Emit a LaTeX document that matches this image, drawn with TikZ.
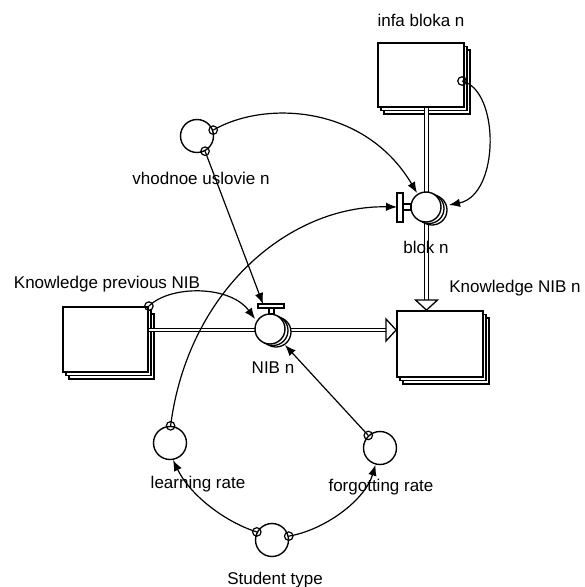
\documentclass[tikz,border=0pt]{standalone}
\usepackage{fontspec}
\setmainfont{Liberation Sans}
\usetikzlibrary{arrows.meta,shadows}
\begin{document}
\begin{tikzpicture}[x=1pt,y=-1pt,
  line width=1.4pt,
  lbl/.style={font=\fontsize{17}{20}\selectfont, inner sep=0pt},
  aux/.style={circle, draw, fill=white, minimum size=33pt, inner sep=0pt},
  port/.style={circle, draw, minimum size=8.5pt, inner sep=0pt, line width=1.2pt},
  link/.style={-{Latex[length=11pt,width=8.5pt]}, line width=1.2pt},
  pipe/.style={double distance=2.4pt, line width=1.1pt},
  valve/.style={circle, draw, fill=white, minimum size=30pt, inner sep=0pt,
    double copy shadow={shadow xshift=3pt, shadow yshift=-1.5pt, draw, fill=white, line width=1.3pt}},
  stockbox/.style={rectangle, draw, fill=white, line width=1.8pt, inner sep=0pt,
    double copy shadow={shadow xshift=3pt, shadow yshift=-3.5pt, draw, fill=white, line width=1.3pt}},
  handle/.style={draw, fill=white, line width=1.2pt},
  head/.style={draw, fill=white, line width=1.3pt},
]
\useasboundingbox (0,0) rectangle (585,587);

% stocks
\node[stockbox, minimum width=86pt, minimum height=64pt] (infa) at (421,75) {};
\node[stockbox, minimum width=85pt, minimum height=65pt] (kprev) at (105.5,339.5) {};
\node[stockbox, minimum width=86pt, minimum height=66pt] (knib) at (440,344) {};

% flow pipes
\coordinate (nibc) at (270,330);
\coordinate (blokc) at (426.5,207);
\coordinate (hbase) at (386,330);
\coordinate (vbase) at (426.5,300);
\draw[pipe] (kprev.east |- nibc) -- (hbase);
\draw[pipe] (blokc |- infa.south) -- (vbase);
\draw[head] (386,319) -- (knib.west |- nibc) -- (386,341) -- cycle;
\draw[head] (415.5,300) -- (blokc |- knib.north) -- (437.5,300) -- cycle;

% valves
\node[valve] (nibv) at (270,329) {};
\node[valve] (blokv) at (426,207) {};
\draw[handle] (269,308) rectangle (274,314);
\draw[handle] (258,304) rectangle (284,308);
\draw[handle] (403,204) rectangle (411,210);
\draw[handle] (397,193) rectangle (403,222);

% auxiliaries
\node[aux] (vh) at (197,136) {};
\node[aux] (lr) at (170,443) {};
\node[aux] (fr) at (380,448) {};
\node[aux] (st) at (272,540) {};

% connector end points
\coordinate (vhA) at (vh.20);
\coordinate (vhB) at (vh.-62);
\coordinate (lrP) at (lr.88);
\coordinate (frP) at (fr.133);
\coordinate (stL) at (st.152);
\coordinate (stR) at (st.13);
\coordinate (infaP) at (462,81);
\coordinate (kprevP) at (kprev.north east);
\coordinate (tBlokTop) at (417,193);
\coordinate (tBlokRight) at (449,205);
\coordinate (tBlokHandle) at (397,207);
\coordinate (tNibLeft) at (255,319);
\coordinate (tNibHandle) at (263,304);
\coordinate (tNibRight) at (285,345);
\coordinate (tLr) at (lr.-80);
\coordinate (tFr) at (fr.-105);

% connectors
\draw[link] (vhA) .. controls (265,100) and (365,105) .. (tBlokTop);
\draw[link] (infaP) .. controls (500,90) and (500,195) .. (tBlokRight);
\draw[link] (kprevP) .. controls (170,285) and (230,285) .. (tNibLeft);
\draw[link] (vhB) -- (tNibHandle);
\draw[link] (lrP) .. controls (188,290) and (290,205) .. (tBlokHandle);
\draw[link] (frP) -- (tNibRight);
\draw[link] (stL) .. controls (225,522) and (190,495) .. (tLr);
\draw[link] (stR) .. controls (325,530) and (365,500) .. (tFr);

% connector rings
\foreach \p in {vhA,vhB,lrP,frP,stL,stR,infaP,kprevP}
  \node[port] at (\p) {};

% labels
\node[lbl] (tinfa) at (421,20) {infa bloka n};
\node[lbl] (tvh) at (201,178) {vhodnoe uslovie n};
\node[lbl] (tblok) at (426,247) {blok n};
\node[lbl] (tkprev) at (107,284) {Knowledge previous NIB};
\node[lbl] (tknib) at (515,288) {Knowledge NIB n};
\node[lbl] (tnib) at (273,368) {NIB n};
\node[lbl] (tlr) at (198,484) {learning rate};
\node[lbl] (tfr) at (381,487) {forgotting rate};
\node[lbl] (tst) at (275,580) {Student type};
\end{tikzpicture}
\end{document}
